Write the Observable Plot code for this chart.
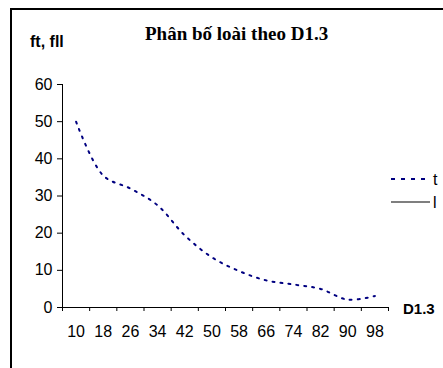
<!DOCTYPE html>
<html>
<head>
<meta charset="utf-8">
<script src="https://cdn.jsdelivr.net/npm/d3@7"></script>
<script src="https://cdn.jsdelivr.net/npm/@observablehq/plot@0.6"></script>
<style>
  html, body { margin: 0; padding: 0; background: #fff; }
  #wrap { position: relative; width: 443px; height: 368px; overflow: hidden; background: #fff; font-family: "Liberation Sans", Arial, sans-serif; }
  #frame { position: absolute; left: 10px; top: 8px; width: 600px; height: 600px; border-left: 2px solid #000; border-top: 2px solid #000; box-sizing: border-box; }
  #chart { position: absolute; left: 0; top: 0; }
  #chart svg text { font-size: 16px !important; fill: #000; }
  .abs { position: absolute; white-space: nowrap; color: #000; line-height: 1; }
  #title { font-family: "Liberation Serif", "Times New Roman", serif; font-weight: bold; font-size: 19px; left: 145px; top: 24px; }
  #ylab { font-weight: bold; font-size: 16px; left: 30px; top: 34px; }
  #xlab { font-weight: bold; font-size: 15px; left: 403px; top: 301px; }
  #legend { position: absolute; left: 385px; top: 165px; }
</style>
</head>
<body>
<div id="wrap">
  <div id="frame"></div>
  <div id="chart"></div>
  <div class="abs" id="title"></div>
  <div class="abs" id="ylab"></div>
  <div class="abs" id="xlab"></div>
  <svg id="legend" width="58" height="50">
    <line x1="6" x2="44" y1="14" y2="14" stroke="#000080" stroke-width="2" stroke-dasharray="4 6"></line>
    <text id="legt0" x="48" y="20" font-size="16" font-family="Liberation Sans, Arial, sans-serif"></text>
    <line x1="6" x2="45" y1="37" y2="37" stroke="#555" stroke-width="1.5"></line>
    <text id="legt1" x="48" y="43" font-size="16" font-family="Liberation Sans, Arial, sans-serif"></text>
  </svg>
</div>
<script>
const titleText = "Phân bố loài theo D1.3";
const yLabel = "ft, fll";
const xLabel = "D1.3";
const seriesNames = ["t", "l"];
const categories = [10, 18, 26, 34, 42, 50, 58, 66, 74, 82, 90, 98];
const tValues = [50, 35.5, 32, 27.5, 19.4, 13.5, 9.8, 7.3, 6.2, 5, 2.1, 3.1];
const yTicks = [0, 10, 20, 30, 40, 50, 60];

document.getElementById("title").textContent = titleText;
document.getElementById("ylab").textContent = yLabel;
document.getElementById("xlab").textContent = xLabel;
document.getElementById("legt0").textContent = seriesNames[0];
document.getElementById("legt1").textContent = seriesNames[1];

const step = categories[1] - categories[0];
const xDomain = [categories[0] - step / 2, categories[categories.length - 1] + step / 2];
const tickPos = categories.map(c => c - step / 2).concat([xDomain[1]]);
const data = categories.map((c, i) => ({ d: c, v: tValues[i] }));

const chart = Plot.plot({
  width: 443,
  height: 368,
  marginLeft: 62,
  marginRight: 55,
  marginTop: 84,
  marginBottom: 61,
  style: { fontFamily: "Liberation Sans, Arial, sans-serif", fontSize: "16px", background: "transparent", color: "#000" },
  x: { domain: xDomain, type: "linear" },
  y: { domain: [0, 60] },
  marks: [
    Plot.ruleX([xDomain[0]], { stroke: "#000", strokeWidth: 1 }),
    Plot.ruleY([0], { stroke: "#000", strokeWidth: 1 }),
    Plot.axisY({ ticks: yTicks, tickSize: 5, tickPadding: 5, label: null, fontSize: 16 }),
    Plot.axisX({ ticks: tickPos, tickSize: 4, tickFormat: () => "", label: null }),
    Plot.axisX({ ticks: categories, tickSize: 0, tickPadding: 18, label: null, fontSize: 16 }),
    Plot.line(data, { x: "d", y: "v", curve: "catmull-rom", stroke: "#000080", strokeWidth: 2, strokeDasharray: "2 6" })
  ]
});
document.getElementById("chart").appendChild(chart);
</script>
</body>
</html>
